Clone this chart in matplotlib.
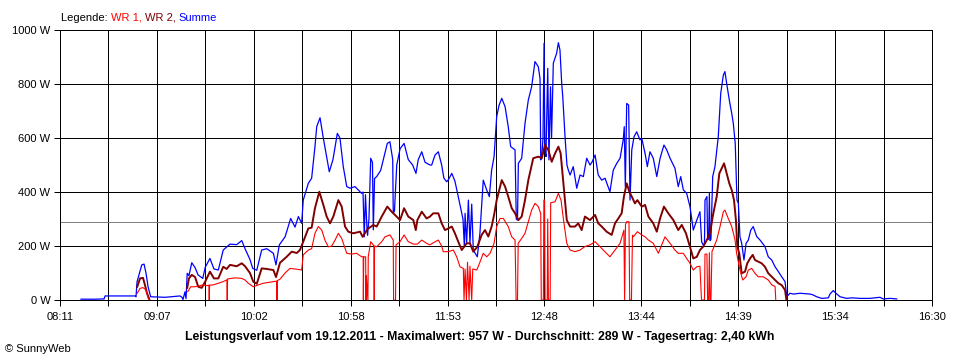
import numpy as np
import matplotlib
matplotlib.use("Agg")
import matplotlib.pyplot as plt

# ---------------- data (time in minutes since midnight, power in W) ----------------
x_min, x_max = 491, 990          # 08:11 .. 16:30
tick_labels = ["08:11", "09:07", "10:02", "10:58", "11:53",
               "12:48", "13:44", "14:39", "15:34", "16:30"]
y_ticks = [0, 200, 400, 600, 800, 1000]
average_w = 289

summe_t = [503.0, 511.0, 516.2, 516.8, 533.9, 534.5, 535.1, 537.8, 539.1, 540.2, 541.4, 542.9,
           551.1, 559.7, 560.8, 561.4, 562.5, 563.1, 563.8, 564.8, 566.4, 568.3, 570.0, 572.7,
           574.1, 576.8, 579.1, 581.6, 584.4, 588.3, 592.1, 595.0, 596.9, 599.7, 601.3, 603.6,
           606.4, 609.3, 613.1, 614.6, 616.5, 619.8, 623.0, 625.5, 627.4, 629.3, 630.2, 633.1,
           635.0, 636.9, 637.9, 639.8, 641.7, 643.6, 645.1, 647.2, 649.7, 651.2, 653.1, 655.1,
           657.0, 659.8, 663.6, 664.4, 665.1, 665.8, 666.7, 667.0, 667.8, 668.8, 669.8, 670.3,
           671.0, 672.2, 674.5, 677.0, 678.3, 679.8, 681.4, 681.7, 682.4, 683.7, 685.6, 687.9,
           690.3, 692.8, 694.7, 696.0, 698.0, 699.9, 702.7, 703.7, 705.6, 707.5, 709.4, 710.7,
           712.3, 713.2, 715.2, 717.0, 718.9, 720.9, 721.6, 722.4, 722.8, 723.7, 724.7, 725.6,
           726.6, 727.5, 729.8, 731.3, 733.2, 735.2, 736.7, 738.0, 739.4, 740.9, 742.2, 743.8,
           745.7, 747.5, 748.9, 751.4, 752.1, 752.8, 753.3, 755.2, 757.1, 759.0, 760.9, 762.8,
           764.7, 765.7, 766.1, 766.7, 767.4, 768.0, 768.5, 769.1, 770.1, 770.8, 771.7, 772.3,
           773.3, 775.2, 776.2, 777.1, 778.1, 778.7, 780.0, 781.1, 781.9, 782.9, 784.7, 786.7,
           788.6, 790.5, 792.4, 794.3, 795.4, 797.2, 799.0, 801.0, 802.9, 805.7, 807.6, 809.6,
           811.5, 813.3, 813.9, 814.5, 815.3, 816.4, 817.2, 818.2, 819.5, 821.0, 822.9, 823.9,
           825.8, 827.1, 828.6, 830.5, 832.5, 834.4, 836.6, 838.2, 840.1, 842.9, 844.8, 846.2,
           847.7, 849.6, 851.5, 853.4, 855.4, 857.2, 858.2, 859.1, 859.8, 860.1, 861.2, 861.6,
           862.2, 862.6, 863.0, 863.5, 864.5, 865.8, 867.7, 869.1, 870.6, 871.5, 872.5, 874.0,
           875.4, 876.3, 877.4, 877.7, 878.0, 878.4, 879.2, 880.1, 881.1, 882.4, 883.6, 884.9,
           886.3, 887.7, 889.7, 891.6, 894.4, 896.3, 898.3, 900.2, 902.1, 904.0, 905.9, 906.9,
           908.7, 910.6, 914.5, 920.2, 921.9, 924.0, 926.9, 930.7, 931.6, 933.5, 935.5, 937.4,
           941.2, 944.1, 948.8, 954.5, 960.2, 962.1, 966.0, 969.8]
summe_w = [3, 3, 4, 15, 15, 12, 68, 130, 133, 100, 49, 12,
           10, 15, 10, 2, 30, 5, 99, 90, 138, 120, 93, 80,
           121, 154, 115, 111, 185, 207, 205, 220, 190, 150, 117, 110,
           185, 190, 173, 130, 204, 234, 302, 270, 309, 284, 370, 432,
           451, 568, 642, 675, 599, 530, 475, 520, 617, 600, 494, 420,
           414, 420, 395, 400, 234, 390, 260, 240, 300, 525, 510, 260,
           450, 457, 480, 545, 580, 586, 520, 321, 330, 500, 560, 580,
           520, 500, 469, 520, 549, 510, 500, 500, 537, 549, 500, 451,
           438, 445, 469, 440, 383, 321, 300, 197, 321, 210, 370, 210,
           355, 185, 160, 247, 444, 407, 383, 481, 531, 679, 720, 747,
           716, 642, 568, 556, 300, 296, 506, 525, 654, 741, 790, 883,
           864, 820, 519, 531, 600, 951, 560, 531, 858, 519, 790, 600,
           877, 914, 953, 926, 802, 753, 605, 500, 481, 463, 494, 414,
           463, 457, 525, 500, 510, 537, 463, 444, 451, 401, 481, 506,
           525, 593, 642, 420, 728, 722, 370, 556, 605, 623, 593, 599,
           543, 494, 549, 525, 457, 525, 574, 556, 525, 488, 420, 457,
           408, 395, 346, 259, 296, 327, 215, 204, 210, 370, 383, 225,
           225, 395, 220, 225, 457, 494, 605, 765, 833, 846, 802, 741,
           691, 654, 580, 519, 450, 370, 358, 234, 210, 148, 210, 222,
           259, 272, 235, 222, 198, 160, 148, 123, 105, 86, 68, 12,
           25, 22, 25, 22, 19, 12, 6, 8, 22, 35, 22, 12,
           6, 8, 6, 6, 10, 4, 6, 4]

wr2_t = [535.2, 536.8, 538.5, 539.6, 540.8, 542.1, np.nan,
         563.8, 564.8, 566.4, 568.3, 570.1, 572.1, 574.1, 576.8, 579.1, 581.6, 584.4, 586.4,
         588.3, 592.1, 595.0, 596.9, 599.7, 601.6, 603.6, 606.4, 609.3, 613.1, 614.6, 616.9,
         620.7, 623.6, 626.5, 628.3, 630.2, 633.1, 635.0, 636.9, 639.4, 641.7, 643.6, 645.5,
         647.4, 650.3, 652.2, 654.1, 656.0, 658.8, 662.7, 664.2, 666.9, 670.3, 672.2, 675.1,
         678.3, 680.8, 682.7, 685.6, 687.9, 690.3, 693.2, 694.6, 695.5, 698.0, 700.8, 702.7,
         704.6, 707.5, 709.4, 711.3, 713.2, 715.2, 717.0, 718.9, 720.9, 723.7, 725.6, 727.5,
         729.8, 732.3, 734.2, 736.1, 738.0, 739.4, 740.9, 743.8, 745.7, 747.5, 749.5, 751.4,
         753.3, 755.2, 757.1, 759.0, 761.8, 764.7, 766.7, 768.5, 770.4, 772.4, 774.3, 776.2,
         777.5, 779.4, 781.0, 782.9, 785.7, 787.6, 789.5, 791.4, 794.3, 797.2, 799.0, 801.0,
         803.8, 806.7, 808.6, 810.5, 812.4, 813.7, 815.3, 816.8, 818.2, 820.0, 821.4, 823.9,
         825.8, 827.7, 830.5, 832.5, 834.4, 836.6, 839.1, 842.0, 844.8, 846.8, 849.2, 851.5,
         853.4, 855.4, 857.2, 859.1, 861.1, 863.0, 864.5, 866.8, 868.3, 871.0, 872.5, 874.0,
         875.4, 876.7, 877.8, 878.6, 879.7, 881.1, 883.0, 884.3, 885.9, 887.4, 888.7, 890.6,
         892.5, 894.4, 896.3, 898.3, 900.2, 902.1, 904.0, 905.9, 906.7]
wr2_w = [49, 80, 82, 56, 25, 3, np.nan,
         45, 80, 93, 85, 49, 45, 68, 105, 80, 80, 123, 115,
         130, 125, 136, 125, 100, 68, 60, 117, 115, 111, 85, 138,
         160, 179, 174, 185, 216, 265, 268, 340, 401, 352, 309, 284,
         309, 370, 346, 272, 253, 247, 253, 234, 262, 278, 272, 309,
         346, 327, 315, 296, 340, 309, 296, 259, 296, 327, 302, 309,
         321, 321, 284, 259, 265, 272, 247, 216, 185, 210, 210, 179,
         197, 241, 259, 235, 272, 315, 370, 444, 420, 383, 340, 321,
         296, 309, 370, 444, 525, 531, 525, 574, 556, 512, 543, 568,
         543, 407, 296, 272, 272, 284, 259, 309, 296, 315, 284, 272,
         253, 241, 284, 302, 321, 383, 432, 401, 383, 358, 370, 346,
         352, 309, 284, 253, 302, 346, 321, 296, 259, 278, 247, 197,
         154, 160, 185, 198, 222, 247, 309, 383, 469, 506, 469, 432,
         407, 370, 296, 197, 173, 99, 105, 136, 154, 167, 148, 142,
         136, 123, 99, 86, 74, 62, 55, 37, 0]

wr1_t = [535.2, 536.8, 538.5, 540.2, 541.5, 542.2, np.nan,
         564.1, 565.8, 568.3, 571.1, 573.0, 574.9, 576.2, 576.4, 576.6, 578.7, 581.6, 584.4,
         586.5, 586.7, 586.9, 591.1, 595.0, 596.9, 598.8, 601.6, 604.5, 607.3, 610.2, 613.1,
         615.0, 615.2, 615.4, 616.9, 619.8, 622.6, 626.5, 629.3, 630.2, 633.1, 635.0, 636.9,
         638.8, 640.8, 642.6, 644.5, 646.5, 648.4, 650.3, 652.2, 655.1, 657.9, 660.8, 663.6,
         664.5, 664.6, 664.8, 665.9, 666.1, 666.3, 667.2, 667.4, 668.8, 670.3, 670.6, 670.8,
         671.0, 672.2, 675.1, 677.0, 679.8, 681.7, 681.9, 683.0, 683.3, 685.6, 687.9, 690.3,
         693.2, 695.5, 698.0, 700.8, 702.7, 704.6, 707.5, 709.4, 710.3, 713.2, 716.1, 718.0,
         719.9, 721.8, 722.2, 722.8, 723.6, 724.2, 725.1, 725.6, 726.6, 727.2, 729.5, 731.3,
         733.2, 735.2, 737.1, 739.4, 740.9, 742.8, 744.7, 747.5, 749.5, 751.4, 752.0, 752.8,
         753.2, 755.2, 757.1, 759.0, 760.9, 762.8, 764.7, 766.1, 766.4, 767.6, 767.9, 768.3,
         768.6, 769.8, 770.1, 770.5, 771.5, 771.8, 774.3, 776.2, 777.7, 779.4, 781.0, 782.9,
         785.7, 788.6, 791.4, 794.3, 797.2, 799.0, 801.9, 805.7, 808.6, 811.5, 813.7, 814.1,
         814.6, 815.3, 816.6, 817.0, 818.0, 818.6, 819.1, 821.4, 823.9, 825.8, 827.7, 830.5,
         833.4, 835.3, 837.2, 840.1, 842.9, 844.8, 847.7, 849.6, 851.5, 853.4, 855.4, 857.2,
         858.1, 859.8, 860.1, 861.2, 861.6, 862.2, 862.6, 863.0, 863.5, 864.1, 864.5, 866.8,
         868.7, 870.6, 871.5, 873.4, 875.4, 877.3, 878.2, 880.1, 881.7, 883.6, 884.9, 886.8,
         888.7, 890.6, 893.5, 896.3, 898.3, 900.2, 900.6]
wr1_w = [25, 43, 46, 37, 6, 0, np.nan,
         31, 49, 49, 53, 56, 53, 55, 0, 55, 56, 62, 68,
         75, 0, 78, 82, 80, 74, 62, 49, 56, 62, 65, 68,
         70, 0, 72, 77, 100, 117, 114, 111, 167, 185, 190, 247,
         272, 259, 222, 197, 200, 222, 247, 228, 173, 170, 173, 160,
         160, 0, 160, 160, 0, 90, 0, 160, 216, 204, 200, 0,
         200, 197, 216, 234, 241, 222, 0, 0, 204, 216, 241, 216,
         207, 207, 222, 210, 204, 212, 222, 200, 179, 179, 185, 160,
         123, 117, 0, 115, 0, 140, 0, 125, 0, 115, 111, 140,
         173, 160, 173, 210, 272, 302, 302, 272, 234, 222, 0, 0,
         210, 228, 247, 290, 333, 358, 346, 320, 0, 0, 370, 370,
         0, 0, 300, 0, 0, 360, 364, 395, 370, 284, 210, 185,
         179, 185, 198, 204, 216, 204, 185, 160, 185, 210, 259, 0,
         280, 290, 290, 0, 0, 240, 234, 253, 241, 234, 222, 210,
         173, 204, 234, 210, 185, 173, 173, 154, 136, 111, 123, 125,
         0, 0, 170, 170, 0, 0, 175, 0, 0, 180, 185, 222,
         272, 327, 333, 302, 272, 222, 173, 111, 74, 86, 111, 117,
         99, 86, 86, 74, 56, 50, 0]

# ---------------- figure ----------------
plt.rcParams['font.family'] = ['Liberation Sans', 'DejaVu Sans']
fig = plt.figure(figsize=(9.6, 3.6), dpi=100)
ax = fig.add_axes([60/960, 1-300/360, 872/960, 270/360])

x_ticks = np.linspace(x_min, x_max, 19)
ax.set_xlim(x_min, x_max)
ax.set_ylim(0, 1000)

GW = 0.72  # one pixel
for xv in x_ticks:
    ax.axvline(xv, color='black', lw=GW, antialiased=False, zorder=1)
for yv in y_ticks:
    ax.axhline(yv, color='black', lw=GW, antialiased=False, zorder=1)
ax.axhline(average_w, color='#808080', lw=GW, antialiased=False, zorder=1.5)

ax.plot(summe_t, summe_w, color='#0000ff', lw=0.9, zorder=2)
ax.plot(wr2_t, wr2_w, color='#800000', lw=1.4, zorder=3)
ax.plot(wr1_t, wr1_w, color='#ff0000', lw=0.8, zorder=4)

ax.set_xticks(x_ticks)
ax.set_xticklabels([tick_labels[i // 2] if i % 2 == 0 else "" for i in range(19)])
ax.set_yticks(y_ticks)
ax.set_yticklabels([f"{v} W" for v in y_ticks])
ax.tick_params(axis='both', length=4, width=GW, color='black', labelsize=8, pad=3)
ax.tick_params(axis='x', pad=4.5)
for s in ax.spines.values():
    s.set_color('black')
    s.set_linewidth(GW)

# legend line at top (pieces on a common baseline)
FS = 8
renderer = fig.canvas.get_renderer()
parts = [("Legende: ", 'black'), ("WR 1, ", '#ff0000'), ("WR 2, ", '#800000'), ("Summe", '#0000ff')]
x_px = 61
for txt, col in parts:
    t = fig.text(x_px/960, 1-21/360, txt, color=col, fontsize=FS, va='baseline', ha='left')
    x_px = t.get_window_extent(renderer=renderer).x1

fig.text(0.5, 1-337/360,
         "Leistungsverlauf vom 19.12.2011 - Maximalwert: 957 W - Durchschnitt: 289 W - Tagesertrag: 2,40 kWh",
         ha='center', va='center', fontsize=8.8, fontweight='bold')
fig.text(5/960, 1-349/360, "© SunnyWeb", ha='left', va='center', fontsize=FS)

fig.savefig("out.png", dpi=100)
